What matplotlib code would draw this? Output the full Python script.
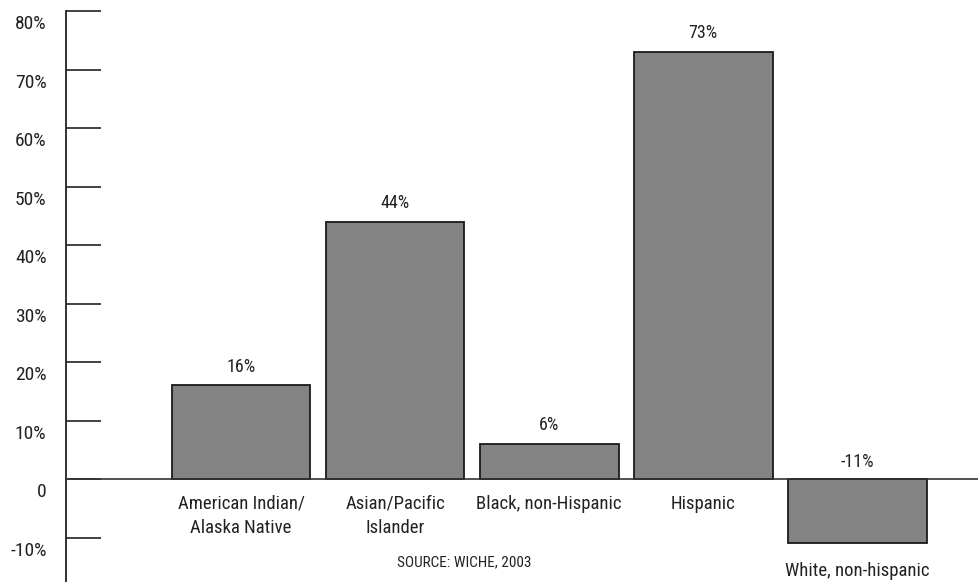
import matplotlib
matplotlib.use("Agg")
import matplotlib.pyplot as plt
from matplotlib import font_manager
import matplotlib.transforms as mtransforms

categories = ["American Indian/\nAlaska Native", "Asian/Pacific\nIslander",
              "Black, non-Hispanic", "Hispanic", "White, non-hispanic"]
values = [16, 44, 6, 73, -11]
value_labels = ["16%", "44%", "6%", "73%", "-11%"]
yticks = [-10, 0, 10, 20, 30, 40, 50, 60, 70, 80]
ytick_labels = ["-10%", "0", "10%", "20%", "30%", "40%", "50%", "60%", "70%", "80%"]
source = "SOURCE: WICHE, 2003"

names = {f.name for f in font_manager.fontManager.ttflist}
fam = "DejaVu Sans"
for cand in ["Liberation Sans Narrow", "Roboto Condensed", "Archivo Narrow",
             "PT Sans Narrow", "Arial Narrow", "Pragati Narrow", "Open Sans Condensed"]:
    if cand in names:
        fam = cand
        break
plt.rcParams["font.family"] = [fam, "DejaVu Sans"]

W, H = 980, 582
fig = plt.figure(figsize=(W / 100, H / 100), dpi=100)
x0, x1 = 66, 978
ax = fig.add_axes([x0 / W, 0, (x1 - x0) / W, 1])

step = 154.1
ax.set_xlim((x0 - 241) / step, (x1 - 241) / step)
ymin, ymax = -17.6, 81.9
ax.set_ylim(ymin, ymax)

xs = list(range(len(values)))
ax.bar(xs, values, width=0.9, color="#838383", edgecolor="#1a1a1a", linewidth=1.3, zorder=2)

# zero baseline across the plot
ax.axhline(0, color="#333333", linewidth=1.2, zorder=3)

for s in ["top", "right", "bottom"]:
    ax.spines[s].set_visible(False)
ax.spines["left"].set_bounds(ymin, 80)
ax.spines["left"].set_linewidth(1.3)
ax.spines["left"].set_color("#222222")

ax.set_xticks([])
ax.set_yticks(yticks)
ax.set_yticklabels(ytick_labels, fontsize=14, color="#222222")
ax.tick_params(axis="y", direction="in", length=25, width=1.2, color="#222222", pad=14)
offset = mtransforms.ScaledTranslation(0, -11 / 100, fig.dpi_scale_trans)
for lbl in ax.get_yticklabels():
    lbl.set_transform(lbl.get_transform() + offset)

for x, v, t in zip(xs, values, value_labels):
    ypos = v + 3.2 if v >= 0 else 3.0
    ax.text(x, ypos, t, ha="center", va="center", fontsize=13, color="#222222")

for x, v, c in zip(xs, values, categories):
    if v >= 0:
        ax.text(x, -2.7, c, ha="center", va="top", fontsize=13.5, color="#222222", linespacing=1.45)
    else:
        ax.text(x, v - 3.1, c, ha="center", va="top", fontsize=13.5, color="#222222")

ax.text(1.45, -14.2, source, ha="center", va="center", fontsize=11, color="#222222")

fig.savefig("out.png", dpi=100)
